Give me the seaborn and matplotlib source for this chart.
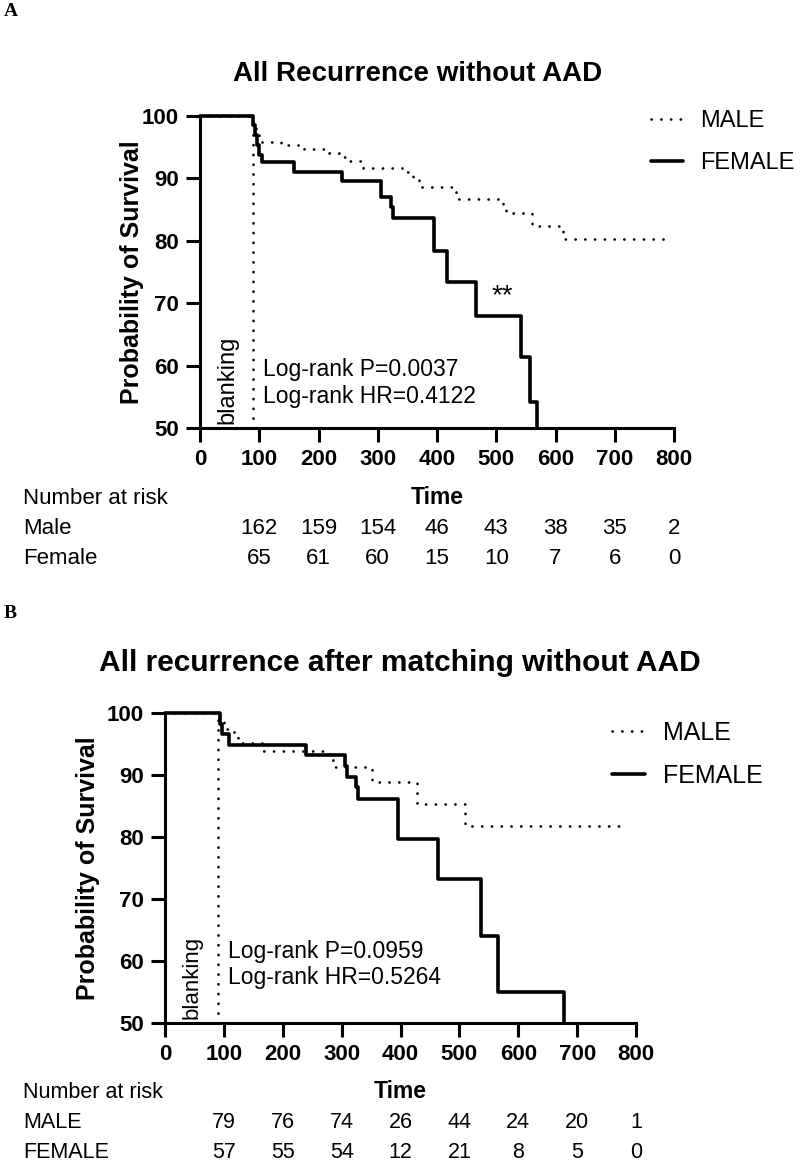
import numpy as np
import pandas as pd
import seaborn as sns
import matplotlib.pyplot as plt
from matplotlib.transforms import blended_transform_factory

sns.set_style("ticks")
plt.rcParams["font.family"] = ["Liberation Sans", "DejaVu Sans"]
# seaborn greys -> pure black like the original
for key in ["text.color", "axes.labelcolor", "axes.edgecolor", "xtick.color", "ytick.color"]:
    plt.rcParams[key] = "black"

# ---- panel A: all recurrence without AAD ----
a_male_t = [0, 88, 90, 92, 94, 97, 100, 136, 175, 218, 235, 252, 275, 345, 360, 370, 432, 512, 516, 560, 613, 793]
a_male_s = [100, 99.4, 98.8, 98.1, 97.5, 96.9, 95.9, 95.3, 94.7, 94.1, 93.5, 92.8, 91.7, 91.1, 89.8, 88.6, 86.7, 85.6, 84.5, 82.4, 80.3, 80.3]
a_female_t = [0, 90, 93, 96, 100, 104, 159, 239, 306, 322, 326, 395, 417, 465, 542, 557, 568]
a_female_s = [100, 98.5, 96.9, 95.4, 93.8, 92.7, 91.1, 89.6, 87.0, 85.4, 83.7, 78.4, 73.4, 68.0, 61.4, 54.2, 50]

# ---- panel B: after matching ----
b_male_t = [0, 92, 100, 118, 124, 165, 278, 285, 352, 428, 510, 786]
b_male_s = [100, 98.7, 97.5, 96.2, 95.1, 93.8, 92.5, 91.3, 88.9, 85.4, 81.7, 81.7]
b_female_t = [0, 93, 97, 109, 240, 306, 309, 324, 328, 395, 463, 537, 566, 677]
b_female_s = [100, 98.3, 96.6, 94.9, 93.2, 91.5, 89.7, 88.0, 86.2, 79.7, 73.2, 64.0, 55.0, 50]

# number at risk
risk_times = [100, 200, 300, 400, 500, 600, 700, 800]
a_risk_male = [162, 159, 154, 46, 43, 38, 35, 2]
a_risk_female = [65, 61, 60, 15, 10, 7, 6, 0]
b_risk_male = [79, 76, 74, 26, 44, 24, 20, 1]
b_risk_female = [57, 55, 54, 12, 21, 8, 5, 0]

blanking_day = 90
W, H = 810, 1162

fig = plt.figure(figsize=(W / 100, H / 100), dpi=100)
dots = (0, (0.1, 3.6))


def fx(px):
    return px / W


def fy(px):
    return 1 - px / H


def draw_panel(ax, male_t, male_s, female_t, female_s, blank_size):
    sns.lineplot(x=male_t, y=male_s, ax=ax, estimator=None, drawstyle="steps-post",
                 color="black", lw=1.9, linestyle=dots, dash_capstyle="round",
                 label="MALE", clip_on=False)
    sns.lineplot(x=female_t, y=female_s, ax=ax, estimator=None, drawstyle="steps-post",
                 color="black", lw=2.6, label="FEMALE", clip_on=False)
    ax.plot([blanking_day, blanking_day], [50, 100], color="black", lw=1.9,
            linestyle=dots, dash_capstyle="round", clip_on=False)
    ax.set_xlim(0, 800)
    ax.set_ylim(50, 100)
    ax.set_xticks(range(0, 801, 100))
    ax.set_yticks(range(50, 101, 10))
    ax.tick_params(direction="out", length=10, width=2.2, labelsize=16, pad=5)
    for lbl in ax.get_xticklabels() + ax.get_yticklabels():
        lbl.set_fontweight("bold")
    for sp in ["left", "bottom"]:
        ax.spines[sp].set_linewidth(2.2)
    sns.despine(ax=ax)
    ax.set_xlabel("")
    ax.set_ylabel("Probability of Survival", fontsize=18, fontweight="bold")
    ax.text(46, 50.6, "blanking", rotation=90, ha="center", va="bottom", fontsize=blank_size)


def risk_table(ax, top_px, row_names, male_vals, female_vals, size):
    tr = blended_transform_factory(ax.transData, fig.transFigure)
    fig.text(fx(23), fy(top_px), "Number at risk", fontsize=size, va="center")
    ax.text(400, fy(top_px), "Time", transform=tr, fontsize=16.5, fontweight="bold",
            ha="center", va="center")
    for k, (name, vals) in enumerate(zip(row_names, [male_vals, female_vals])):
        y = fy(top_px + 31 + 29 * k)
        fig.text(fx(23), y, name, fontsize=size, va="center")
        for t, v in zip(risk_times, vals):
            ax.text(t, y, str(v), transform=tr, fontsize=size, ha="center", va="center")


# panel A
axA = fig.add_axes([fx(200), fy(428), fx(474), 312 / H])
draw_panel(axA, a_male_t, a_male_s, a_female_t, a_female_s, 17)
axA.yaxis.set_label_coords(-0.118, 0.5)
axA.legend(loc="upper left", bbox_to_anchor=(fx(651), fy(110)), bbox_transform=fig.transFigure,
           frameon=False, fontsize=17, handlelength=1.35, handletextpad=0.75,
           labelspacing=0.85, borderpad=0, borderaxespad=0)
axA.text(106, 59.4, "Log-rank P=0.0037", fontsize=16.5, va="center")
axA.text(106, 55.1, "Log-rank HR=0.4122", fontsize=16.5, va="center")
axA.text(510, 69.0, "**", fontsize=20, ha="center", va="bottom")
fig.text(fx(418), fy(74), "All Recurrence without AAD", fontsize=20, fontweight="bold",
         ha="center", va="center")
fig.text(fx(4), fy(12), "A", fontsize=14, fontweight="bold", family="Liberation Serif", va="center")
risk_table(axA, 498, ["Male", "Female"], a_risk_male, a_risk_female, 16)

# panel B
axB = fig.add_axes([fx(165), fy(1023), fx(471), 310 / H])
draw_panel(axB, b_male_t, b_male_s, b_female_t, b_female_s, 16)
axB.yaxis.set_label_coords(-0.138, 0.5)
axB.legend(loc="upper left", bbox_to_anchor=(fx(612), fy(721)), bbox_transform=fig.transFigure,
           frameon=False, fontsize=18, handlelength=1.3, handletextpad=0.75,
           labelspacing=0.75, borderpad=0, borderaxespad=0)
axB.text(107, 61.5, "Log-rank P=0.0959", fontsize=16.5, va="center")
axB.text(107, 57.3, "Log-rank HR=0.5264", fontsize=16.5, va="center")
fig.text(fx(400), fy(663), "All recurrence after matching without AAD", fontsize=21.5,
         fontweight="bold", ha="center", va="center")
fig.text(fx(4), fy(613), "B", fontsize=14, fontweight="bold", family="Liberation Serif", va="center")
risk_table(axB, 1092, ["MALE", "FEMALE"], b_risk_male, b_risk_female, 15.5)

fig.savefig("out.png", dpi=100, facecolor="white")
